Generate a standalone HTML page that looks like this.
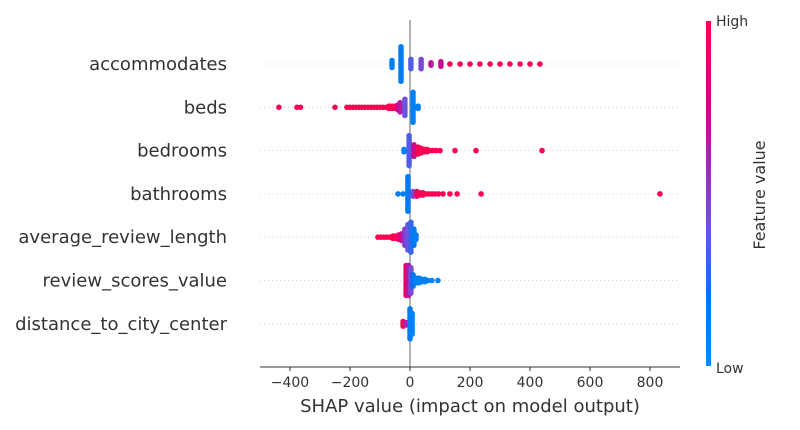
<!DOCTYPE html>
<html><head><meta charset="utf-8"><style>
body{margin:0;background:#fff;}
svg{display:block;font-family:"DejaVu Sans","Liberation Sans",sans-serif;}
</style></head><body>
<svg id="chart" width="800" height="430" xmlns="http://www.w3.org/2000/svg">
<defs>
<linearGradient id="cb" x1="0" y1="1" x2="0" y2="0">
<stop offset="0" stop-color="#008bfb"/>
<stop offset="0.2" stop-color="#0075ef"/>
<stop offset="0.4" stop-color="#6b55e0"/>
<stop offset="0.6" stop-color="#a723b8"/>
<stop offset="0.8" stop-color="#d8007e"/>
<stop offset="1" stop-color="#ff0052"/>
</linearGradient>
</defs>
<g id="grid"></g>
<line x1="410" y1="20" x2="410" y2="367" stroke="#999" stroke-width="1.5"/>
<g id="dots"></g>
<line x1="260" y1="367" x2="680" y2="367" stroke="#333" stroke-width="1"/>
<g id="ticks"></g>
<text x="470" y="412" text-anchor="middle" font-size="18" fill="#333">SHAP value (impact on model output)</text>
<rect x="706" y="21" width="5" height="345" fill="url(#cb)"/>
<text x="716" y="26" font-size="14" fill="#333">High</text>
<text x="716" y="373" font-size="14" fill="#333">Low</text>
<text transform="translate(765,195) rotate(-90)" text-anchor="middle" font-size="16" fill="#333">Feature value</text>
</svg>
<script>
const features = ["accommodates","beds","bedrooms","bathrooms","average_review_length","review_scores_value","distance_to_city_center"];
const xTicks = [-400,-200,0,200,400,600,800];
// per-feature clusters: shap value, feature value (0 low..1 high), stack count
const accVals = [-60,-30,3,37,70,103,133,167,200,233,267,300,333,367,400,433];
const accCol  = [0.1,0.15,0.35,0.45,0.7,0.75,0.95,0.95,1,1,1,1,1,1,1,1];
const accCnt  = [4,16,5,5,2,3,1,1,1,1,1,1,1,1,1,1];
const bedsVals = [-437,-377,-365,-250,-210,-200,-190,-180,-170,-160,-150,-140,-130,-120,-110,-100,-90,-80,-70,-60,-50,-40,-33,-17,10,27];
const bedsCol  = [1,1,1,1,1,1,1,1,1,1,1,1,1,1,1,1,1,1,1,1,0.95,0.8,0.65,0.4,0.1,0.1];
const bedsCnt  = [1,1,1,1,1,1,1,1,1,1,1,1,1,1,1,1,1,1,2,2,2,3,5,8,14,2];
const bedrVals = [-20,-3,13,27,37,47,57,67,77,87,100,150,220,440];
const bedrCol  = [0.1,0.35,0.75,0.95,1,1,1,1,1,1,1,1,1,1];
const bedrCnt  = [2,14,6,4,3,2,2,1,1,1,1,1,1,1];
const bathVals = [-40,-23,-7,10,23,33,43,53,63,73,83,95,110,133,157,237,833];
const bathCol  = [0.1,0.1,0.15,0.45,0.95,1,1,1,1,1,1,1,1,1,1,1,1];
const bathCnt  = [1,1,16,3,3,2,2,1,1,1,1,1,1,1,1,1,1];
const arlVals = [-107,-97,-87,-77,-67,-57,-47,-37,-27,-17,-7,3,13,20];
const arlCol  = [1,1,1,1,1,1,1,0.9,0.7,0.5,0.4,0.3,0.15,0.1];
const arlCnt  = [1,1,1,1,1,2,2,3,4,8,12,14,8,3];
const rsvVals = [-13,-5,3,10,20,30,40,50,60,73,93];
const rsvCol  = [0.9,0.7,0.45,0.2,0.1,0.1,0.1,0.1,0.1,0.1,0.1];
const rsvCnt  = [14,14,12,6,3,3,2,2,1,1,1];
const distVals = [-23,-13,0,7];
const distCol  = [1,0.6,0.15,0.1];
const distCnt  = [3,2,14,10];
const featVals = [accVals,bedsVals,bedrVals,bathVals,arlVals,rsvVals,distVals];
const featCols = [accCol,bedsCol,bedrCol,bathCol,arlCol,rsvCol,distCol];
const featCnts = [accCnt,bedsCnt,bedrCnt,bathCnt,arlCnt,rsvCnt,distCnt];

const NS="http://www.w3.org/2000/svg";
const x = v => 410 + v*0.3;
const y = i => 64 + i*43.3;
function color(t){
  const stops=[[0,[0,139,251]],[0.2,[0,117,239]],[0.4,[107,85,224]],[0.6,[167,35,184]],[0.8,[216,0,126]],[1,[255,0,82]]];
  for(let k=1;k<stops.length;k++){ if(t<=stops[k][0]){const a=stops[k-1],b=stops[k];const f=(t-a[0])/(b[0]-a[0]);
    return "rgb("+a[1].map((c,j)=>Math.round(c+(b[1][j]-c)*f)).join(",")+")";}}
  return "rgb(255,0,82)";
}
const grid=document.getElementById('grid'), dots=document.getElementById('dots'), ticks=document.getElementById('ticks'), svg=document.getElementById('chart');
features.forEach((f,i)=>{
  const gl=document.createElementNS(NS,'line');
  gl.setAttribute('x1',260);gl.setAttribute('x2',680);gl.setAttribute('y1',y(i));gl.setAttribute('y2',y(i));
  gl.setAttribute('stroke','#ccc');gl.setAttribute('stroke-dasharray','1,3');gl.setAttribute('stroke-width','0.8');
  
  
  grid.appendChild(gl);
  const t=document.createElementNS(NS,'text');
  t.setAttribute('x',227);t.setAttribute('y',y(i)+6);t.setAttribute('text-anchor','end');t.setAttribute('font-size','18');t.setAttribute('fill','#333');
  t.textContent=f;
  
  
  svg.appendChild(t);
  const vals=featVals[i], cols=featCols[i], cnts=featCnts[i];
  vals.forEach((v,k)=>{
    const n=cnts[k];
    for(let j=0;j<n;j++){
      const c=document.createElementNS(NS,'circle');
      c.setAttribute('cx',x(v));c.setAttribute('cy',y(i)+(j-(n-1)/2)*2.3);c.setAttribute('r',2.8);
      c.setAttribute('fill',color(cols[k]));
      
      
      dots.appendChild(c);
    }
  });
});
xTicks.forEach(v=>{
  const l=document.createElementNS(NS,'line');
  l.setAttribute('x1',x(v));l.setAttribute('x2',x(v));l.setAttribute('y1',367);l.setAttribute('y2',371);l.setAttribute('stroke','#333');
  
  
  ticks.appendChild(l);
  const t=document.createElementNS(NS,'text');
  t.setAttribute('x',x(v));t.setAttribute('y',387);t.setAttribute('text-anchor','middle');t.setAttribute('font-size','14');t.setAttribute('fill','#333');
  t.textContent=(v<0?'\u2212'+(-v):String(v));
  
  
  ticks.appendChild(t);
});
</script>
</body></html>
